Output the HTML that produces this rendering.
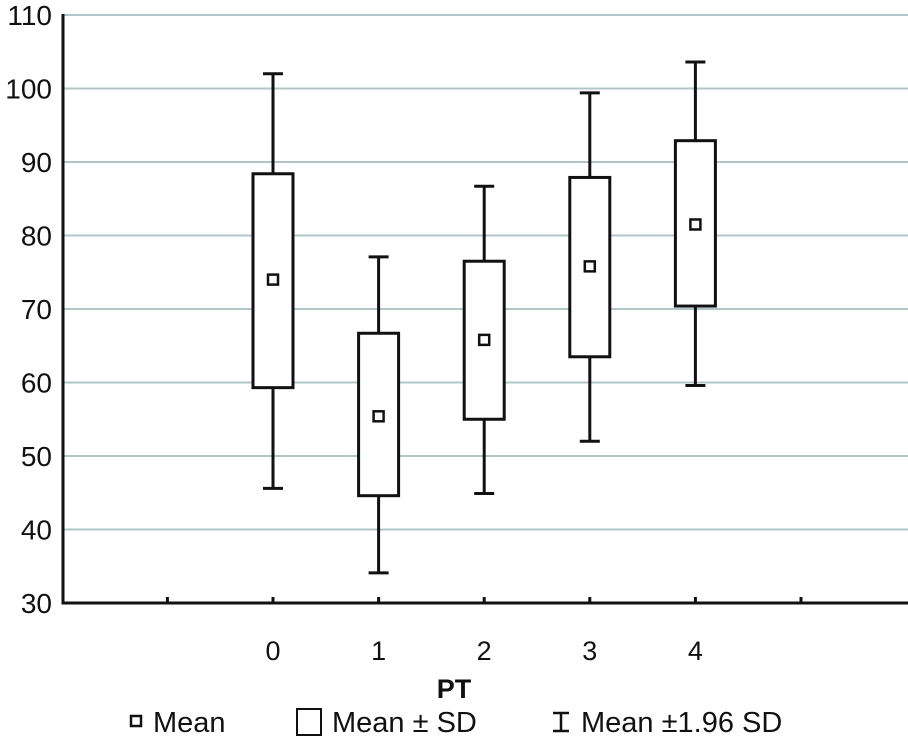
<!DOCTYPE html>
<html><head><meta charset="utf-8"><style>
body{margin:0;background:#fff;width:908px;height:739px;overflow:hidden}
text{font-family:"Liberation Sans",sans-serif;fill:#111}
</style></head><body>
<svg id="chart" width="908" height="739" xmlns="http://www.w3.org/2000/svg"></svg>
<script>
const categories=["0","1","2","3","4"];
const means=[74,55.4,65.8,75.8,81.5];
const sdLow=[59.3,44.6,55,63.5,70.4];
const sdHigh=[88.4,66.7,76.5,87.9,92.9];
const ciLow=[45.6,34.1,44.9,52,59.6];
const ciHigh=[102,77.1,86.7,99.4,103.6];
const yTicks=[30,40,50,60,70,80,90,100,110];
const xTickPositions=[-1,0,1,2,3,4,5];

const svg=document.getElementById('chart');
const NS='http://www.w3.org/2000/svg';
const y=v=>603-(v-30)*(588/80);
const x=i=>273+i*105.6;
function mk(t,a,name){const e=document.createElementNS(NS,t);for(const k in a)e.setAttribute(k,a[k]);


svg.appendChild(e);return e;}
yTicks.forEach(v=>{
 if(v>30) mk('line',{x1:63,x2:908,y1:y(v),y2:y(v),stroke:'#b3c6c6','stroke-width':2},'gridline');
 const t=mk('text',{x:52,y:y(v)+10,'text-anchor':'end','font-size':28},'y-tick-label');t.textContent=v;
});
mk('line',{x1:63,x2:63,y1:14,y2:604.5,stroke:'#111','stroke-width':3},'y-axis');
mk('line',{x1:61.5,x2:908,y1:603,y2:603,stroke:'#111','stroke-width':3},'x-axis');
xTickPositions.forEach(p=>mk('line',{x1:x(p),x2:x(p),y1:597,y2:603,stroke:'#111','stroke-width':3},'x-tick'));
categories.forEach((c,i)=>{
 const cx=x(i);
 const t=mk('text',{x:cx,y:660,'text-anchor':'middle','font-size':27},'x-tick-label');t.textContent=c;
 mk('line',{x1:cx,x2:cx,y1:y(ciHigh[i]),y2:y(ciLow[i]),stroke:'#111','stroke-width':3},'whisker');
 mk('line',{x1:cx-10,x2:cx+10,y1:y(ciHigh[i]),y2:y(ciHigh[i]),stroke:'#111','stroke-width':3},'whisker-cap-top');
 mk('line',{x1:cx-10,x2:cx+10,y1:y(ciLow[i]),y2:y(ciLow[i]),stroke:'#111','stroke-width':3},'whisker-cap-bottom');
 mk('rect',{x:cx-20,y:y(sdHigh[i]),width:40,height:y(sdLow[i])-y(sdHigh[i]),fill:'#fff',stroke:'#111','stroke-width':3},'sd-box');
 mk('rect',{x:cx-5,y:y(means[i])-5,width:10,height:10,fill:'#fff',stroke:'#111','stroke-width':2.5},'mean-marker');
});
const tt=mk('text',{x:454,y:698,'text-anchor':'middle','font-size':27,'font-weight':'bold'},'x-axis-title');tt.textContent='PT';
mk('rect',{x:131,y:716,width:10,height:10,fill:'#fff',stroke:'#111','stroke-width':2.5},'legend-mean-icon');
let l=mk('text',{x:153,y:732,'font-size':29},'legend-mean');l.textContent='Mean';
mk('rect',{x:297,y:709,width:24,height:26,fill:'#fff',stroke:'#111','stroke-width':2},'legend-sd-icon');
l=mk('text',{x:332,y:732,'font-size':29},'legend-sd');l.textContent='Mean ± SD';
mk('line',{x1:561,x2:561,y1:713,y2:731,stroke:'#111','stroke-width':2.5},'legend-ci-icon');
mk('line',{x1:553,x2:569,y1:713,y2:713,stroke:'#111','stroke-width':2.5},'legend-ci-icon-top');
mk('line',{x1:553,x2:569,y1:731,y2:731,stroke:'#111','stroke-width':2.5},'legend-ci-icon-bottom');
l=mk('text',{x:581,y:732,'font-size':29},'legend-ci');l.textContent='Mean ±1.96 SD';
</script>
</body></html>
